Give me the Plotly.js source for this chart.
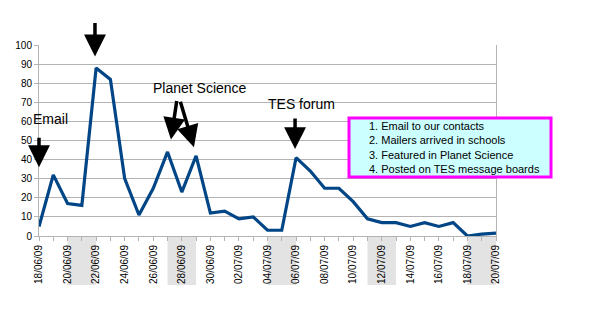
<!DOCTYPE html>
<html>
<head>
<meta charset="utf-8">
<script src="https://cdn.plot.ly/plotly-3.0.1.min.js"></script>
<style>html,body{margin:0;padding:0;background:#fff;}#chart{width:609px;height:309px;}</style>
</head>
<body>
<div id="chart"></div>
<script>
const dates = ['18/06/09','19/06/09','20/06/09','21/06/09','22/06/09','23/06/09','24/06/09','25/06/09','26/06/09','27/06/09','28/06/09','29/06/09','30/06/09',
  '01/07/09','02/07/09','03/07/09','04/07/09','05/07/09','06/07/09','07/07/09','08/07/09','09/07/09','10/07/09','11/07/09','12/07/09','13/07/09','14/07/09','15/07/09','16/07/09','17/07/09','18/07/09','19/07/09','20/07/09'];
const visits = [5,32,17,16,88,82,30,11,25,44,23,42,12,13,9,10,3,3,41,34,25,25,18,9,7,7,5,7,5,7,0,1,1.5];
const labelledDates = ['18/06/09','20/06/09','22/06/09','24/06/09','26/06/09','28/06/09','30/06/09','02/07/09','04/07/09','06/07/09','08/07/09','10/07/09','12/07/09','14/07/09','16/07/09','18/07/09','20/07/09'];
const weekendStarts = ['20/06/09','27/06/09','04/07/09','11/07/09','18/07/09'];
const yTicks = [0,10,20,30,40,50,60,70,80,90,100];
const legendLines = ['1. Email to our contacts','2. Mailers arrived in schools','3. Featured in Planet Science','4. Posted on TES message boards'];

const font = 'Liberation Sans, Arial, sans-serif';
const idx = d => dates.indexOf(d);
const tickvals = dates.map((d,i)=>i);
const ticktext = dates.map(d => labelledDates.includes(d) ? d : '');

const shapes = weekendStarts.map(d => ({
  type:'rect', xref:'x', yref:'paper', x0: idx(d), x1: idx(d)+2, y0:-0.257, y1:-0.005,
  fillcolor:'#e3e3e3', line:{width:0}, layer:'below'
}));
// legend box
shapes.push({type:'rect', xref:'paper', yref:'paper',
  x0:(349-39)/457, x1:(551-39)/457, y0:(236-177)/191, y1:(236-118)/191,
  fillcolor:'#ccffff', line:{color:'#ff00ff', width:3}, layer:'above'});

const arrow = {showarrow:true, arrowhead:2, arrowsize:1.25, arrowwidth:3.5, arrowcolor:'#000', text:'', axref:'pixel', ayref:'pixel'};
const annotations = [
  Object.assign({x:0, y:36, ax:0, ay:-31}, arrow),
  Object.assign({x:3.92, y:94, ax:0, ay:-35}, arrow),
  Object.assign({x:9.24, y:50.5, ax:6, ay:-40}, arrow),
  Object.assign({x:10.85, y:46.5, ax:-14, ay:-47}, arrow),
  Object.assign({x:17.93, y:45.5, ax:0, ay:-32}, arrow),
  {xref:'paper', yref:'paper', x:(31-39)/457, y:(236-119)/191, text:'Email', showarrow:false, xanchor:'left', yanchor:'middle', font:{family:font, size:14, color:'#000'}},
  {x:11.27, y:77.5, text:'Planet Science', showarrow:false, xanchor:'center', yanchor:'middle', font:{family:font, size:14, color:'#000'}},
  {x:18.4, y:69.2, text:'TES forum', showarrow:false, xanchor:'center', yanchor:'middle', font:{family:font, size:14, color:'#000'}},
  {xref:'paper', yref:'paper', x:(367-39)/457, y:(236-147.5)/191, xanchor:'left', yanchor:'middle', align:'left',
   text: legendLines.join('<br>'), showarrow:false, font:{family:font, size:11, color:'#000'}}
];

const trace = {x: tickvals, y: visits, type:'scatter', mode:'lines', line:{color:'#004586', width:3.2}, hoverinfo:'none', cliponaxis:false};

const layout = {
  width:609, height:309,
  margin:{l:39, r:113, t:45, b:73},
  paper_bgcolor:'#fff', plot_bgcolor:'#fff',
  showlegend:false,
  font:{family:font, size:10, color:'#000'},
  xaxis:{range:[0, dates.length-1], tickvals:tickvals, ticktext:ticktext, tickangle:-90,
    ticks:'outside', ticklen:4, tickcolor:'#b3b3b3', showgrid:false, zeroline:false,
    showline:true, linecolor:'#b3b3b3', linewidth:1, tickfont:{family:font, size:10, color:'#000'}, fixedrange:true},
  yaxis:{range:[0,100], tickvals:yTicks, ticks:'outside', ticklen:4, tickcolor:'#b3b3b3',
    showgrid:true, gridcolor:'#b3b3b3', gridwidth:1, zeroline:false, showline:true, mirror:true,
    linecolor:'#b3b3b3', linewidth:1, tickfont:{family:font, size:10, color:'#000'}, fixedrange:true},
  shapes:shapes,
  annotations:annotations
};
Plotly.newPlot('chart', [trace], layout, {displayModeBar:false, staticPlot:true});
</script>
</body>
</html>
